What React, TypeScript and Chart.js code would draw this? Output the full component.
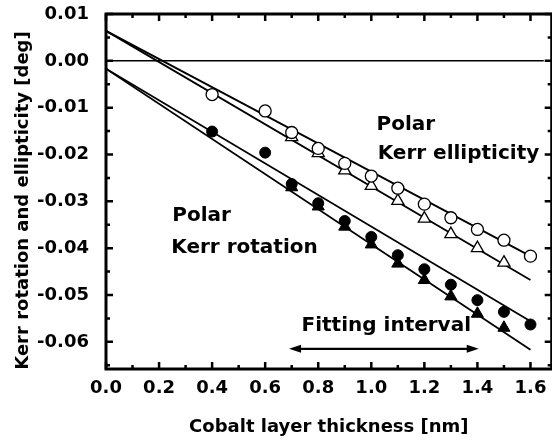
import React, { useEffect, useRef } from "react";
import { Chart, registerables } from "chart.js";

Chart.register(...registerables);

// ---- data ----
const THICKNESS = [0.4, 0.6, 0.7, 0.8, 0.9, 1.0, 1.1, 1.2, 1.3, 1.4, 1.5, 1.6];
const ELLIP_CIRCLES = [-0.0072, -0.0107, -0.0153, -0.0187, -0.0219, -0.0246, -0.0272, -0.0306, -0.0335, -0.036, -0.0383, -0.0417];
const ROT_CIRCLES = [-0.0151, -0.0196, -0.0263, -0.0304, -0.0342, -0.0376, -0.0415, -0.0445, -0.0478, -0.0511, -0.0536, -0.0563];
const TRI_THICKNESS = [0.7, 0.8, 0.9, 1.0, 1.1, 1.2, 1.3, 1.4, 1.5];
const ELLIP_TRIANGLES = [-0.0163, -0.0197, -0.0234, -0.0267, -0.0299, -0.0337, -0.037, -0.04, -0.0431];
const ROT_TRIANGLES = [-0.027, -0.0311, -0.0354, -0.0392, -0.0433, -0.0468, -0.0503, -0.054, -0.057];

const FIT_X = [0, 1.6];
const FIT_ELLIP_CIRCLES = [0.0064, -0.0417];
const FIT_ELLIP_TRIANGLES = [0.0064, -0.0468];
const FIT_ROT_CIRCLES = [-0.0017, -0.0556];
const FIT_ROT_TRIANGLES = [-0.0017, -0.0617];

const ZERO_LINE_X = [0, 1.65];
const ZERO_LINE_Y = [0, 0];

const X_TICKS = [0, 0.2, 0.4, 0.6, 0.8, 1.0, 1.2, 1.4, 1.6];
const X_MINOR = [0.1, 0.3, 0.5, 0.7, 0.9, 1.1, 1.3, 1.5];
const Y_TICKS = [0.01, 0, -0.01, -0.02, -0.03, -0.04, -0.05, -0.06];
const Y_MINOR = [0.005, -0.005, -0.015, -0.025, -0.035, -0.045, -0.055, -0.065];

const X_TITLE = "Cobalt layer thickness [nm]";
const Y_TITLE = "Kerr rotation and ellipticity [deg]";

const FIT_INTERVAL_X = [0.69, 1.405];
const FIT_INTERVAL_Y = -0.0615;

const ANNOTATIONS: { text: string; x: number; y: number }[] = [
  { text: "Polar", x: 1.02, y: -0.0137 },
  { text: "Kerr ellipticity", x: 1.024, y: -0.0199 },
  { text: "Polar", x: 0.25, y: -0.0331 },
  { text: "Kerr rotation", x: 0.246, y: -0.04 },
  { text: "Fitting interval", x: 0.737, y: -0.0565 },
];

const FONT_FAMILY = '"DejaVu Sans", "Liberation Sans", Arial, sans-serif';

const pts = (xs: number[], ys: number[]) => xs.map((x, i) => ({ x, y: ys[i] }));

const framePlugin = {
  id: "frameAndNotes",
  afterDatasetsDraw(chart: any) {
    const { ctx, chartArea } = chart;
    const xs = chart.scales.x;
    const ys = chart.scales.y;
    const { left, right, top, bottom } = chartArea;
    ctx.save();
    ctx.strokeStyle = "#000";
    ctx.fillStyle = "#000";
    // ticks (inward)
    ctx.lineWidth = 2.5;
    const major = 7;
    const minor = 4;
    const xTick = (v: number, len: number) => {
      const p = xs.getPixelForValue(v);
      ctx.beginPath();
      ctx.moveTo(p, bottom);
      ctx.lineTo(p, bottom - len);
      ctx.moveTo(p, top);
      ctx.lineTo(p, top + len);
      ctx.stroke();
    };
    const yTick = (v: number, len: number) => {
      const p = ys.getPixelForValue(v);
      if (p < top - 1 || p > bottom + 1) return;
      ctx.beginPath();
      ctx.moveTo(left, p);
      ctx.lineTo(left + len, p);
      ctx.moveTo(right, p);
      ctx.lineTo(right - len, p);
      ctx.stroke();
    };
    X_TICKS.forEach((v) => xTick(v, major));
    X_MINOR.forEach((v) => xTick(v, minor));
    Y_TICKS.forEach((v) => yTick(v, major));
    Y_MINOR.forEach((v) => yTick(v, minor));
    // frame
    ctx.lineWidth = 3;
    ctx.strokeRect(left, top, right - left, bottom - top);

    // x tick labels (from the scale's own ticks)
    ctx.font = `bold 18px ${FONT_FAMILY}`;
    ctx.textAlign = "center";
    ctx.textBaseline = "middle";
    xs.ticks.forEach((t: any) => {
      ctx.fillText(Number(t.value).toFixed(1), xs.getPixelForValue(t.value), bottom + 19);
    });

    // y axis title
    ctx.save();
    ctx.translate(23, (top + bottom) / 2 + 9);
    ctx.rotate(-Math.PI / 2);
    ctx.fillText(Y_TITLE, 0, 0);
    ctx.restore();

    // fitting interval arrow
    const ax0 = xs.getPixelForValue(FIT_INTERVAL_X[0]);
    const ax1 = xs.getPixelForValue(FIT_INTERVAL_X[1]);
    const ay = ys.getPixelForValue(FIT_INTERVAL_Y);
    const head = 12;
    const hw = 4;
    ctx.lineWidth = 2.2;
    ctx.beginPath();
    ctx.moveTo(ax0 + head - 2, ay);
    ctx.lineTo(ax1 - head + 2, ay);
    ctx.stroke();
    ctx.beginPath();
    ctx.moveTo(ax0, ay);
    ctx.lineTo(ax0 + head, ay - hw);
    ctx.lineTo(ax0 + head, ay + hw);
    ctx.closePath();
    ctx.fill();
    ctx.beginPath();
    ctx.moveTo(ax1, ay);
    ctx.lineTo(ax1 - head, ay - hw);
    ctx.lineTo(ax1 - head, ay + hw);
    ctx.closePath();
    ctx.fill();

    // annotations
    ctx.font = `bold 20px ${FONT_FAMILY}`;
    ctx.textAlign = "left";
    ctx.textBaseline = "middle";
    ANNOTATIONS.forEach((a) => {
      ctx.fillText(a.text, xs.getPixelForValue(a.x), ys.getPixelForValue(a.y));
    });
    ctx.restore();
  },
};

export default function App() {
  const ref = useRef<HTMLCanvasElement>(null);
  useEffect(() => {
    if (!ref.current) return;
    const tickFont = { family: FONT_FAMILY, size: 18, weight: "bold" as const };
    const openPoint = {
      showLine: false,
      borderColor: "#000",
      backgroundColor: "#fff",
      borderWidth: 1.3,
    };
    const filledPoint = {
      showLine: false,
      borderColor: "#000",
      backgroundColor: "#000",
      borderWidth: 1,
    };
    const fitLine = {
      type: "line" as const,
      borderColor: "#000",
      borderWidth: 1.8,
      pointRadius: 0,
      showLine: true,
      fill: false,
    };
    const chart = new Chart(ref.current, {
      type: "scatter",
      data: {
        datasets: [
          { ...openPoint, data: pts(THICKNESS, ELLIP_CIRCLES), pointStyle: "circle", pointRadius: 6 },
          { ...openPoint, data: pts(TRI_THICKNESS, ELLIP_TRIANGLES), pointStyle: "triangle", pointRadius: 7 },
          { ...filledPoint, data: pts(THICKNESS, ROT_CIRCLES), pointStyle: "circle", pointRadius: 5.5 },
          { ...filledPoint, data: pts(TRI_THICKNESS, ROT_TRIANGLES), pointStyle: "triangle", pointRadius: 7 },
          { ...fitLine, data: pts(FIT_X, FIT_ELLIP_CIRCLES) },
          { ...fitLine, data: pts(FIT_X, FIT_ELLIP_TRIANGLES) },
          { ...fitLine, data: pts(FIT_X, FIT_ROT_CIRCLES) },
          { ...fitLine, data: pts(FIT_X, FIT_ROT_TRIANGLES) },
          { ...fitLine, borderWidth: 1.5, data: pts(ZERO_LINE_X, ZERO_LINE_Y) },
        ] as any,
      },
      options: {
        responsive: false,
        devicePixelRatio: 1,
        animation: false,
        layout: { padding: { top: 14, right: 6, left: 0, bottom: 0 } },
        plugins: { legend: { display: false }, tooltip: { enabled: false } },
        scales: {
          x: {
            type: "linear",
            min: 0,
            max: 1.68,
            afterFit: (s: any) => {
              s.height = 71;
              s.paddingLeft = 0;
              s.paddingRight = 0;
            },
            afterBuildTicks: (s: any) => {
              s.ticks = X_TICKS.map((v) => ({ value: v }));
            },
            grid: { display: false },
            border: { display: false },
            ticks: { display: false },
            title: {
              display: true,
              text: X_TITLE,
              color: "#000",
              font: tickFont,
              padding: { top: 0, bottom: 2 },
            },
          },
          y: {
            type: "linear",
            min: -0.0658,
            max: 0.01,
            afterFit: (s: any) => {
              s.width = 106;
              s.paddingTop = 0;
              s.paddingBottom = 0;
            },
            afterBuildTicks: (s: any) => {
              s.ticks = Y_TICKS.map((v) => ({ value: v }));
            },
            grid: { display: false },
            border: { display: false },
            ticks: {
              color: "#000",
              font: tickFont,
              padding: 9,
              autoSkip: false,
              callback: (v: any) => Number(v).toFixed(2),
            },
            title: { display: false },
          },
        },
      },
      plugins: [framePlugin],
    });
    return () => chart.destroy();
  }, []);
  return (
    <div
      style={{
        position: "fixed",
        left: 0,
        top: 0,
        width: 552,
        height: 440,
        overflow: "hidden",
        background: "#fff",
      }}
    >
      <canvas ref={ref} width={560} height={440} style={{ display: "block", width: 560, height: 440 }} />
    </div>
  );
}
